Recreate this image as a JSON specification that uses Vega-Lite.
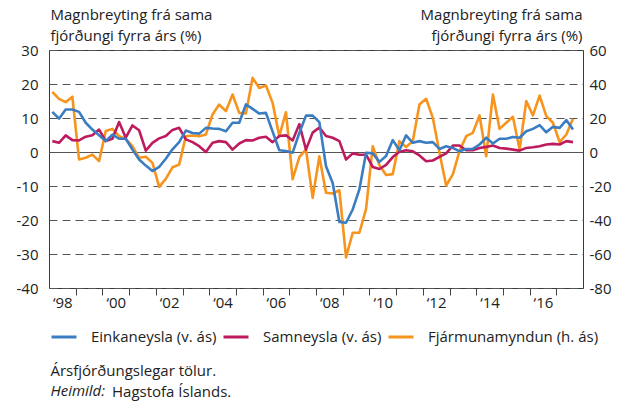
{
  "$schema": "https://vega.github.io/schema/vega-lite/v6.json",
  "width": 534,
  "height": 238,
  "autosize": {"type": "none"},
  "padding": {"left": 49, "top": 50, "right": 44, "bottom": 113},
  "config": {
    "font": "Open Sans",
    "view": {"stroke": "#3a3a3a", "strokeWidth": 1},
    "axis": {"labelFont": "Open Sans", "labelFontSize": 15, "labelColor": "#222", "titleFont": "Open Sans", "titleFontSize": 15, "titleFontWeight": "normal", "titleColor": "#222"},
    "legend": {"orient": "none", "legendX": 1, "legendY": 273, "direction": "horizontal", "columns": 3, "gridAlign": "each", "symbolType": "stroke", "symbolSize": 625, "symbolStrokeWidth": 3, "labelOffset": 13, "columnPadding": 0, "labelFontSize": 15, "labelColor": "#222", "labelFont": "Open Sans", "labelLimit": 300, "padding": 0}
  },
  "title": {"text": "Hagstofa Íslands.", "orient": "bottom", "anchor": "start", "frame": "group", "dx": 63, "offset": 0, "dy": -13, "fontSize": 15, "fontWeight": "normal", "color": "#222", "font": "Open Sans"},
  "data": {"values": [
    {"t":1998.125,"E":11.8,"S":3.2,"F":35.4},
    {"t":1998.375,"E":9.8,"S":2.7,"F":31.3},
    {"t":1998.625,"E":12.5,"S":4.9,"F":29.3},
    {"t":1998.875,"E":12.5,"S":3.5,"F":32.5},
    {"t":1999.125,"E":11.8,"S":3.4,"F":-4.4},
    {"t":1999.375,"E":8.6,"S":4.5,"F":-3.4},
    {"t":1999.625,"E":6.6,"S":4.9,"F":-1.5},
    {"t":1999.875,"E":4.9,"S":6.6,"F":-5.4},
    {"t":2000.125,"E":3.2,"S":3.2,"F":12.3},
    {"t":2000.375,"E":5.1,"S":3.9,"F":13.6},
    {"t":2000.625,"E":3.9,"S":8.8,"F":9.3},
    {"t":2000.875,"E":3.9,"S":4.2,"F":7.7},
    {"t":2001.125,"E":0.7,"S":7.8,"F":3.4},
    {"t":2001.375,"E":-2.2,"S":6.4,"F":-3.4},
    {"t":2001.625,"E":-4.0,"S":0.4,"F":-2.8},
    {"t":2001.875,"E":-5.6,"S":2.7,"F":-6.4},
    {"t":2002.125,"E":-4.4,"S":4.0,"F":-20.5},
    {"t":2002.375,"E":-2.0,"S":4.7,"F":-15.8},
    {"t":2002.625,"E":0.8,"S":6.5,"F":-9.0},
    {"t":2002.875,"E":2.9,"S":7.1,"F":-7.4},
    {"t":2003.125,"E":6.3,"S":3.7,"F":9.3},
    {"t":2003.375,"E":5.6,"S":2.9,"F":9.7},
    {"t":2003.625,"E":5.4,"S":1.7,"F":9.3},
    {"t":2003.875,"E":7.1,"S":0.0,"F":10.3},
    {"t":2004.125,"E":6.9,"S":2.7,"F":22.1},
    {"t":2004.375,"E":6.8,"S":3.2,"F":27.9},
    {"t":2004.625,"E":6.1,"S":2.9,"F":24.0},
    {"t":2004.875,"E":8.6,"S":0.7,"F":33.8},
    {"t":2005.125,"E":8.6,"S":2.5,"F":23.0},
    {"t":2005.375,"E":14.0,"S":3.5,"F":22.6},
    {"t":2005.625,"E":12.7,"S":3.4,"F":43.6},
    {"t":2005.875,"E":11.3,"S":4.2,"F":37.7},
    {"t":2006.125,"E":11.5,"S":4.5,"F":39.1},
    {"t":2006.375,"E":6.0,"S":2.9,"F":28.9},
    {"t":2006.625,"E":0.5,"S":4.7,"F":9.3},
    {"t":2006.875,"E":0.3,"S":4.9,"F":23.4},
    {"t":2007.125,"E":-0.2,"S":3.4,"F":-16.0},
    {"t":2007.375,"E":5.6,"S":8.2,"F":-3.0},
    {"t":2007.625,"E":10.7,"S":0.7,"F":1.5},
    {"t":2007.875,"E":10.7,"S":5.7,"F":-27.0},
    {"t":2008.125,"E":8.8,"S":7.2,"F":-2.6},
    {"t":2008.375,"E":-4.2,"S":4.7,"F":-24.0},
    {"t":2008.625,"E":-9.1,"S":4.2,"F":-24.4},
    {"t":2008.875,"E":-20.6,"S":3.2,"F":-22.5},
    {"t":2009.125,"E":-20.8,"S":-2.2,"F":-62.0},
    {"t":2009.375,"E":-16.9,"S":-0.4,"F":-47.5},
    {"t":2009.625,"E":-11.0,"S":-0.8,"F":-47.5},
    {"t":2009.875,"E":-0.2,"S":-0.8,"F":-33.5},
    {"t":2010.125,"E":-0.4,"S":-4.4,"F":3.4},
    {"t":2010.375,"E":-2.9,"S":-5.0,"F":-7.8},
    {"t":2010.625,"E":-1.2,"S":-3.8,"F":-13.5},
    {"t":2010.875,"E":3.5,"S":-1.5,"F":-13.0},
    {"t":2011.125,"E":0.5,"S":0.1,"F":6.4},
    {"t":2011.375,"E":4.9,"S":0.5,"F":3.0},
    {"t":2011.625,"E":2.7,"S":0.2,"F":6.4},
    {"t":2011.875,"E":3.2,"S":-1.0,"F":27.9},
    {"t":2012.125,"E":2.7,"S":-2.7,"F":31.3},
    {"t":2012.375,"E":2.9,"S":-2.5,"F":20.1},
    {"t":2012.625,"E":0.9,"S":-1.4,"F":-0.5},
    {"t":2012.875,"E":1.7,"S":-0.4,"F":-19.7},
    {"t":2013.125,"E":1.2,"S":1.9,"F":-13.2},
    {"t":2013.375,"E":0.2,"S":1.9,"F":0.5},
    {"t":2013.625,"E":0.9,"S":0.5,"F":9.3},
    {"t":2013.875,"E":0.9,"S":0.5,"F":11.3},
    {"t":2014.125,"E":2.2,"S":1.2,"F":21.5},
    {"t":2014.375,"E":4.2,"S":1.5,"F":-2.5},
    {"t":2014.625,"E":2.5,"S":1.9,"F":33.8},
    {"t":2014.875,"E":3.9,"S":1.2,"F":13.6},
    {"t":2015.125,"E":3.9,"S":1.0,"F":17.2},
    {"t":2015.375,"E":4.4,"S":0.7,"F":20.7},
    {"t":2015.625,"E":4.2,"S":0.4,"F":1.5},
    {"t":2015.875,"E":6.1,"S":1.2,"F":29.9},
    {"t":2016.125,"E":6.8,"S":1.4,"F":21.5},
    {"t":2016.375,"E":7.9,"S":1.7,"F":33.2},
    {"t":2016.625,"E":5.8,"S":2.2,"F":21.1},
    {"t":2016.875,"E":7.4,"S":2.4,"F":17.2},
    {"t":2017.125,"E":7.1,"S":2.2,"F":5.8},
    {"t":2017.375,"E":9.4,"S":3.2,"F":10.3},
    {"t":2017.625,"E":6.6,"S":2.9,"F":19.5}
  ]},
  "layer": [
    {
      "mark": {"type": "line", "strokeWidth": 2.6, "strokeJoin": "round"},
      "encoding": {
        "x": {"field": "t", "type": "quantitative", "scale": {"domain": [1998, 2018], "nice": false, "zero": false},
          "axis": {"orient": "top", "domain": false, "ticks": false, "labels": false, "grid": false, "title": "Heimild:", "titleFontStyle": "italic", "titleAlign": "left", "titleBaseline": "middle", "titleAngle": 0, "titleX": 1, "titleY": 340}},
        "y": {"field": "F", "type": "quantitative", "scale": {"domain": [-80, 60], "nice": false, "zero": false},
          "axis": {"orient": "right", "values": [-80, -60, -40, -20, 0, 20, 40, 60], "labelExpr": "'' + datum.value", "ticks": false, "domain": false, "grid": false, "labelPadding": 6, "labelFlush": false, "labelOverlap": false, "labelBaseline": "middle",
            "title": ["Magnbreyting frá sama", "fjórðungi fyrra árs (%)"], "titleAngle": 0, "titleAlign": "right", "titleBaseline": "top", "titleX": -1, "titleY": -43, "titleLineHeight": 21}},
        "color": {"datum": "F", "scale": {"domain": ["E", "S", "F"], "range": ["#3A7DC2", "#BE1B5E", "#F7941D"]},
          "legend": {"title": null, "orient": "none", "legendX": 1, "legendY": 273, "direction": "horizontal", "columns": 3, "gridAlign": "each", "symbolType": "stroke", "symbolSize": 625, "symbolStrokeWidth": 3, "labelOffset": 13, "columnPadding": 0, "labelLimit": 300, "padding": 0,
            "labelExpr": "datum.label == 'E' ? 'Einkaneysla (v. ás)' : datum.label == 'S' ? 'Samneysla (v. ás)' : 'Fjármunamyndun (h. ás)'"}}
      }
    },
    {
      "transform": [{"fold": ["S", "E"], "as": ["key", "v"]}],
      "mark": {"type": "line", "strokeWidth": 2.6, "strokeJoin": "round"},
      "encoding": {
        "x": {"field": "t", "type": "quantitative", "scale": {"domain": [1998, 2018], "nice": false, "zero": false},
          "axis": {"orient": "bottom", "values": [1998.5, 1999, 2000, 2000.5, 2001, 2002, 2002.5, 2003, 2004, 2004.5, 2005, 2006, 2006.5, 2007, 2008, 2008.5, 2009, 2010, 2010.5, 2011, 2012, 2012.5, 2013, 2014, 2014.5, 2015, 2016, 2016.5, 2017],
            "domain": false, "grid": false, "tickSize": 7, "tickColor": "#444",
            "tickOpacity": {"condition": {"test": "datum.value % 1 === 0", "value": 1}, "value": 0},
            "labelExpr": "datum.value % 1 === 0.5 ? '\u2018' + slice('0' + (floor(datum.value) % 100), -2) : ''",
            "labelPadding": 0, "labelFlush": false, "labelOverlap": false, "labelBound": false,
            "title": "Ársfjórðungslegar tölur.", "titleAlign": "left", "titleBaseline": "middle", "titleAngle": 0, "titleX": 1, "titleY": 82}},
        "y": {"field": "v", "type": "quantitative", "scale": {"domain": [-40, 30], "nice": false, "zero": false},
          "axis": {"orient": "left", "values": [-40, -30, -20, -10, 0, 10, 20, 30], "labelExpr": "'' + datum.value", "ticks": false, "domain": false, "labelPadding": 11, "labelFlush": false, "labelOverlap": false, "labelBaseline": "middle",
            "grid": true, "gridColor": "#555", "gridWidth": 1,
            "gridDash": {"condition": {"test": "datum.value === 0", "value": []}, "value": [8, 5]},
            "title": ["Magnbreyting frá sama", "fjórðungi fyrra árs (%)"], "titleAngle": 0, "titleAlign": "left", "titleBaseline": "top", "titleX": 1, "titleY": -43, "titleLineHeight": 21}},
        "color": {"field": "key", "type": "nominal",
          "legend": {"title": null, "orient": "none", "legendX": 1, "legendY": 273, "direction": "horizontal", "columns": 3, "gridAlign": "each", "symbolType": "stroke", "symbolSize": 625, "symbolStrokeWidth": 3, "labelOffset": 13, "columnPadding": 0, "labelLimit": 300, "padding": 0,
            "labelExpr": "datum.label == 'E' ? 'Einkaneysla (v. ás)' : datum.label == 'S' ? 'Samneysla (v. ás)' : 'Fjármunamyndun (h. ás)'"}}
      }
    }
  ],
  "resolve": {"scale": {"y": "independent"}}
}
